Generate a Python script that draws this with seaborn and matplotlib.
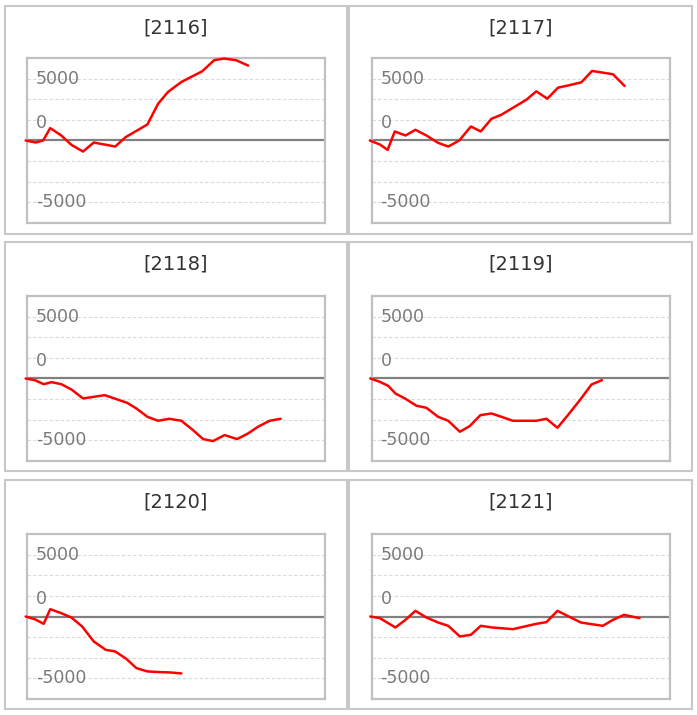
import matplotlib
matplotlib.use("Agg")
import matplotlib.pyplot as plt
import matplotlib.transforms as mtransforms
from matplotlib.patches import Rectangle
import pandas as pd
import seaborn as sns

# ---------------- data ----------------
titles = ["[2116]", "[2117]", "[2118]", "[2119]", "[2120]", "[2121]"]

x_2116 = [-0.45, 2.9, 5.4, 7.8, 11.5, 14.9, 18.8, 22.4, 29.6, 33.1, 40.4, 44.0, 47.3,
          51.8, 58.8, 62.8, 66.1, 70.2, 74.2]
y_2116 = [0, -162, 0, 1000, 405, -351, -892, -162, -487, 270, 1297, 2973, 3919,
          4730, 5595, 6487, 6622, 6487, 6055]

x_2117 = [-0.56, 2.8, 5.4, 7.8, 11.4, 14.7, 18.4, 22.3, 25.7, 29.4, 33.3, 36.6, 40.2,
          43.5, 47.8, 51.9, 55.2, 58.9, 62.5, 66.1, 70.3, 73.9, 80.9, 84.8]
y_2117 = [0, -324, -757, 730, 405, 865, 405, -189, -487, 0, 1135, 730, 1757,
          2081, 2703, 3298, 3973, 3379, 4271, 4460, 4703, 5622, 5352, 4406]

x_2118 = [-0.45, 2.6, 5.6, 8.2, 11.5, 14.9, 18.8, 22.4, 26.1, 30.0, 33.6, 36.7, 40.4,
          44.0, 47.7, 51.8, 55.7, 59.1, 62.4, 66.3, 70.5, 74.2, 77.5, 81.4, 85.1]
y_2118 = [0, -134, -457, -296, -457, -888, -1614, -1480, -1345, -1668, -1964, -2421, -3094,
          -3417, -3255, -3417, -4170, -4896, -5057, -4573, -4896, -4439, -3901, -3417, -3255]

x_2119 = [-0.4, 2.8, 5.6, 8.0, 11.2, 15.1, 18.4, 22.3, 25.7, 29.6, 32.9, 36.5, 40.2,
          43.5, 47.4, 51.3, 55.2, 58.6, 62.3, 65.8, 69.8, 73.7, 77.2]
y_2119 = [0, -269, -592, -1211, -1614, -2206, -2367, -3094, -3417, -4304, -3847, -2959, -2825,
          -3094, -3417, -3417, -3417, -3255, -3981, -2959, -1749, -484, -134]

x_2120 = [-0.45, 2.6, 5.6, 7.8, 11.5, 14.9, 18.5, 22.4, 26.4, 29.6, 33.3, 36.7, 40.4,
          44.5, 47.9, 51.8]
y_2120 = [0, -215, -592, 592, 269, -81, -807, -2018, -2690, -2825, -3417, -4170, -4439,
          -4493, -4520, -4600]

x_2121 = [-0.4, 2.8, 8.0, 11.4, 14.7, 18.4, 22.3, 25.7, 29.6, 33.3, 36.6, 40.5, 47.4,
          51.3, 55.2, 58.6, 62.3, 66.1, 70.1, 73.7, 77.5, 80.9, 84.6, 89.8]
y_2121 = [0, -134, -888, -269, 457, -81, -484, -753, -1614, -1480, -753, -888, -1022,
          -807, -592, -457, 457, 0, -484, -619, -753, -269, 134, -134]

ytick_values = [5000, 0, -5000]
ytick_labels = ["5000", "0", "-5000"]
grid_values = [5000, 3333, 1667, -1667, -3333, -5000]

series = [(x_2116, y_2116), (x_2117, y_2117), (x_2118, y_2118),
          (x_2119, y_2119), (x_2120, y_2120), (x_2121, y_2121)]

# ---------------- layout ----------------
sns.set_theme(style="white")
plt.rcParams["font.family"] = ["DejaVu Sans"]

W, H = 697, 715
fig = plt.figure(figsize=(W / 100, H / 100), dpi=100)
fig.patch.set_facecolor("white")


def fr(left, top, w, h):
    return [left / W, 1 - (top + h) / H, w / W, h / H]


panel_x = [(5, 342), (349, 343)]
panel_y = [(6, 228), (242, 229), (480, 229)]
plot_x = [(27, 298), (371.5, 298.5)]
plot_top = [58, 296, 534]
plot_h = 165

for i, (title, (xs, ys)) in enumerate(zip(titles, series)):
    r, c = divmod(i, 2)
    px, pw = panel_x[c]
    py, ph = panel_y[r]
    fig.patches.append(Rectangle((px / W, 1 - (py + ph) / H), pw / W, ph / H,
                                 transform=fig.transFigure, fill=False,
                                 ec="#c8c8c8", lw=1.5))
    fig.text((px + pw / 2) / W, 1 - (py + 22) / H, title, ha="center", va="center",
             fontsize=14, color="#333333")

    ax = fig.add_axes(fr(plot_x[c][0], plot_top[r], plot_x[c][1], plot_h))
    ax.set_xlim(0, 100)
    ax.set_ylim(-6667, 6667)
    ax.set_xticks([])
    ax.set_yticks([])
    for s in ax.spines.values():
        s.set_color("#c0c0c0")
        s.set_linewidth(1.6)
        s.set_visible(True)

    ax.hlines(grid_values, 0, 100, colors="#dadada", linewidth=0.8,
              linestyles=(0, (3, 2)), zorder=1)
    ax.hlines(0, xs[0], 100, colors="#808080", linewidth=1.6, zorder=2, clip_on=False)

    df = pd.DataFrame({"x": xs, "y": ys})
    sns.lineplot(data=df, x="x", y="y", ax=ax, color="#ff0000", linewidth=1.8,
                 zorder=3, clip_on=False)
    ax.set_xlabel("")
    ax.set_ylabel("")

    trans = mtransforms.blended_transform_factory(ax.transAxes, ax.transData)
    for v, lab in zip(ytick_values, ytick_labels):
        yy = v + (1400 if v == 0 else 0)
        ax.text(0.03, yy, lab, transform=trans, ha="left", va="center",
                fontsize=12.5, color="#7a7a7a", zorder=4)

fig.savefig("out.png", dpi=100, facecolor="white")
